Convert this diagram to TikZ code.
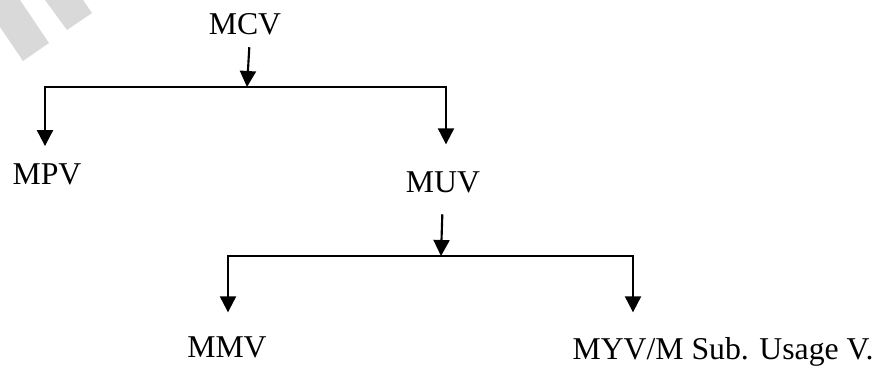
\documentclass[tikz,border=0pt]{standalone}
\usepackage{fontspec}
\setmainfont{Liberation Serif}
\usetikzlibrary{arrows.meta}

\begin{document}
\begin{tikzpicture}[x=0.75pt, y=-0.75pt,
    lbl/.style={font=\fontsize{23.8}{28}\selectfont, inner sep=0pt,
        text height=15.5pt, text depth=0pt, anchor=base},
    bus/.style={line width=1.6pt, line cap=rect},
    flow/.style={line width=1.6pt, -{Triangle[length=12pt, width=12pt]}}]
    \useasboundingbox (0,0) rectangle (879,367);

    % Watermark stripes
    \fill[black!15] (0,0) -- (20,0) -- (49,43) -- (23,61) -- (0,27) -- cycle;
    \fill[black!15] (45,0) -- (83,0) -- (92,13) -- (67,30) -- cycle;

    % First level
    \node[lbl] (mcv) at (245,35) {MCV};
    \node[lbl] (mpv) at (47,185) {MPV};
    \node[lbl] (muv) at (443,193) {MUV};
    \coordinate (busAl) at (45,87);
    \coordinate (busAm) at (247,87);
    \coordinate (busAr) at (446,87);
    \draw[flow, shorten <=9pt] ([xshift=3.75pt]mcv.south) -- (busAm);
    \draw[bus] (busAl) -- (busAr);
    \draw[flow, shorten >=13.5pt] (busAl) -- (busAl |- mpv.north);
    \draw[flow, shorten >=20.8pt] (busAr) -- (busAr |- muv.north);

    % Second level
    \node[lbl] (mmv) at (227,357) {MMV};
    \node[lbl] (myv) at (723,359) {MYV/M Sub. Usage V.};
    \coordinate (busBl) at (228,256);
    \coordinate (busBm) at (441,256);
    \coordinate (busBr) at (633,256);
    \draw[flow, shorten <=15.75pt] (muv.south) -- (busBm);
    \draw[bus] (busBl) -- (busBr);
    \draw[flow, shorten >=17.8pt] (busBl) -- (busBl |- mmv.north);
    \draw[flow, shorten >=19.3pt] (busBr) -- (busBr |- myv.north);
\end{tikzpicture}
\end{document}
